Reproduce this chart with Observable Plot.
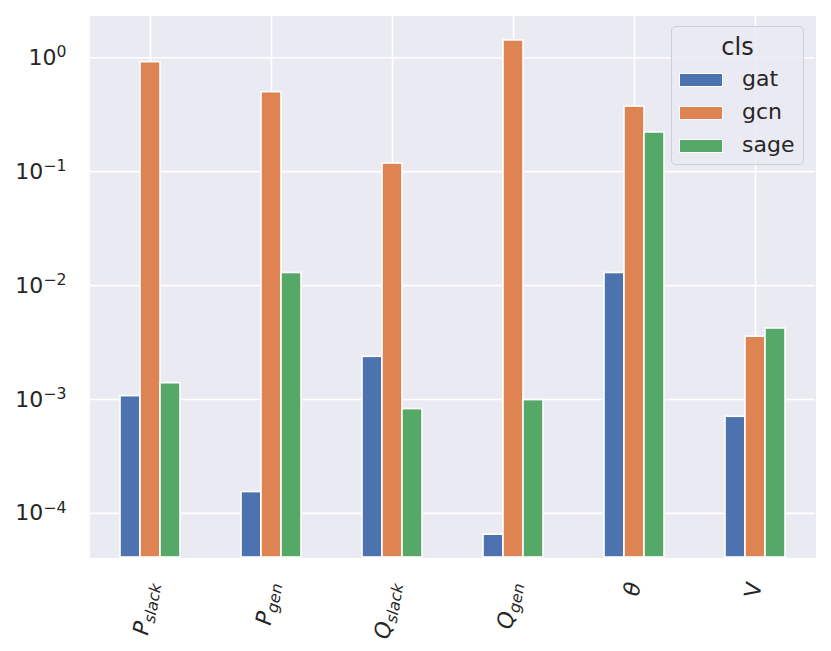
<!DOCTYPE html>
<html>
<head>
<meta charset="utf-8">
<script src="https://cdn.jsdelivr.net/npm/d3@7"></script>
<script src="https://cdn.jsdelivr.net/npm/@observablehq/plot@0.6"></script>
<style>
  body { margin: 0; background: #fff; font-family: "DejaVu Sans", sans-serif; }
  #wrap { position: relative; width: 831px; height: 651px; }
  #legend { position: absolute; left: 671px; top: 26px; width: 133px; height: 139px; box-sizing: border-box;
            border: 1.5px solid rgba(204,204,210,0.9); border-radius: 5px; background: rgba(234,234,242,0.8); color: #262626; }
  #legend .title { position: absolute; left: 0; right: 0; text-align: center; font-size: 24px; line-height: 24px; }
  #legend .sw { position: absolute; width: 44px; height: 14px; box-sizing: border-box; border: 1.5px solid #fff; }
  #legend .lab { position: absolute; font-size: 22px; line-height: 22px; }
</style>
</head>
<body>
<div id="wrap"></div>
<script>
// ---- data ----
const categories = ["P_slack", "P_gen", "Q_slack", "Q_gen", "theta", "V"];
const labelBase   = ["P", "P", "Q", "Q", "θ", "V"];
const labelSub    = ["slack", "gen", "slack", "gen", "", ""];
const labelItalic = [true, true, true, true, true, false];
const classes = ["gat", "gcn", "sage"];
const colors  = ["#4C72B0", "#DD8452", "#55A868"];
const gat  = [1.07e-3, 1.54e-4, 2.37e-3, 6.5e-5, 1.29e-2, 7.05e-4];
const gcn  = [0.915, 0.499, 0.118, 1.42, 0.373, 3.56e-3];
const sage = [1.39e-3, 1.29e-2, 8.24e-4, 9.88e-4, 0.221, 4.2e-3];
const yTicks = [1e-4, 1e-3, 1e-2, 1e-1, 1];
const yTickExp = ["−4", "−3", "−2", "−1", "0"];
const yDomain = [4.1e-5, 2.35];
const legendTitle = "cls";

const series = {gat, gcn, sage};
const rows = categories.flatMap((c, i) => classes.map(k => ({cat: c, cls: k, value: series[k][i]})));

const chart = Plot.plot({
  width: 831, height: 651,
  marginLeft: 88, marginRight: 15, marginTop: 15, marginBottom: 94,
  style: {fontFamily: "DejaVu Sans", fontSize: "22px", color: "#262626", background: "transparent", overflow: "visible"},
  fx: {domain: categories, padding: 0, label: null, tickSize: 0, tickPadding: 25, tickRotate: -80, tickFormat: d => d},
  x: {domain: classes, paddingInner: 0, paddingOuter: 1.5, axis: null},
  y: {type: "log", domain: yDomain, ticks: yTicks, tickSize: 0, tickPadding: 23, label: null,
      tickFormat: d => yTickExp[yTicks.findIndex(t => Math.abs(t - d) / t < 1e-6)]},
  color: {domain: classes, range: colors},
  marks: [
    Plot.frame({fill: "#EAEAF2", shapeRendering: "crispEdges"}),
    Plot.gridY(yTicks, {stroke: "#fff", strokeOpacity: 1, strokeWidth: 1.6}),
    Plot.ruleX(["gcn"], {stroke: "#fff", strokeWidth: 1.6}),
    Plot.barY(rows, {fx: "cat", x: "cls", y1: yDomain[0], y2: "value", fill: "cls", stroke: "#fff", strokeWidth: 1.6})
  ]
});

document.getElementById("wrap").appendChild(chart);

// y tick labels: 10 with superscript exponent
d3.select(chart).selectAll('[aria-label="y-axis tick label"] text').each(function () {
  const exp = this.textContent;
  const t = d3.select(this);
  t.text(null);
  t.append("tspan").text("10");
  t.append("tspan").attr("font-size", "15.7px").attr("dy", "-7.4px").text(exp);
});

// fx tick labels: math-style with subscripts
d3.select(chart).selectAll('[aria-label="fx-axis tick label"] text').each(function () {
  const i = categories.indexOf(this.textContent);
  if (i < 0) return;
  const t = d3.select(this);
  t.text(null);
  t.append("tspan").attr("font-style", labelItalic[i] ? "italic" : "normal").text(labelBase[i]);
  if (labelSub[i]) t.append("tspan").attr("font-style", "italic").attr("font-size", "15.7px").attr("dy", "4.5px").text(labelSub[i]);
});

// legend
const lg = d3.select("#wrap").append("div").attr("id", "legend");
lg.append("div").attr("class", "title").style("top", "8px").text(legendTitle);
classes.forEach((k, i) => {
  const cy = 53.3 + i * 32.8;
  lg.append("div").attr("class", "sw").style("left", "7px").style("top", (cy - 7) + "px").style("background", colors[i]);
  lg.append("div").attr("class", "lab").style("left", "70px").style("top", (cy - 12) + "px").text(k);
});
</script>
</body>
</html>
